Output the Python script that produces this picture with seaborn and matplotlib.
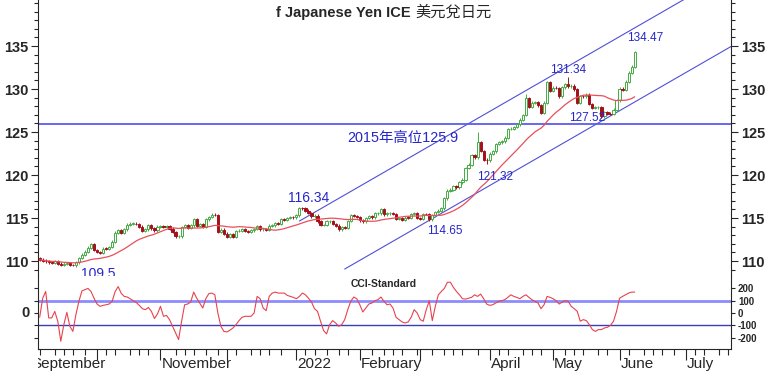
import numpy as np
import pandas as pd
import matplotlib
matplotlib.use("Agg")
import matplotlib.pyplot as plt
import matplotlib.transforms as mtransforms
from matplotlib.ticker import MultipleLocator
import seaborn as sns

# ---------------- data ----------------
start_date, end_date = "2021-09-06", "2022-06-08"
first_open = 110.30

close_sep = [110.15, 110.05, 109.95, 109.85, 109.80, 109.95, 109.70, 109.55, 109.70, 109.75,
             109.55, 109.50, 109.85, 110.35, 110.75, 111.10, 111.55, 112.00, 111.30]
close_oct = [111.05, 110.93, 111.45, 111.42, 111.62, 112.24, 113.31, 113.60, 113.26, 113.68,
             114.22, 114.35, 114.36, 114.30, 113.99, 113.47, 113.70, 114.14, 113.80, 113.58, 114.00]
close_nov = [114.03, 113.97, 114.07, 113.75, 113.40, 112.86, 112.88, 113.95, 114.15, 113.88,
             114.14, 114.84, 114.10, 114.25, 114.00, 114.84, 115.10, 115.38, 115.36, 113.38,
             113.64, 113.17]
close_dec = [112.80, 113.15, 112.78, 113.47, 113.53, 113.73, 113.48, 113.43, 113.57, 113.73,
             114.05, 113.70, 113.70, 113.62, 114.10, 114.15, 114.40, 114.35, 114.83, 114.82,
             115.02, 115.10, 115.08]
close_jan = [115.30, 116.14, 116.12, 115.85, 115.58, 115.20, 115.27, 114.63, 114.18, 114.20,
             114.60, 114.63, 114.30, 114.12, 113.68, 113.95, 113.88, 114.65, 115.35, 115.26, 115.10]
close_feb = [114.72, 114.60, 114.98, 115.25, 115.08, 115.55, 115.55, 116.02, 115.42, 115.55,
             115.60, 115.45, 114.90, 115.00, 114.77, 115.04, 115.03, 115.48, 115.55, 114.98]
close_mar = [114.90, 115.49, 115.48, 114.83, 115.30, 115.68, 115.87, 116.13, 117.30, 118.17,
             118.30, 118.70, 118.57, 119.14, 119.46, 120.80, 121.20, 122.33, 122.05, 123.85,
             122.80, 121.80, 121.70]
close_apr = [122.50, 122.75, 123.60, 123.80, 123.93, 124.35, 125.35, 125.38, 125.60, 125.88,
             126.45, 126.98, 128.90, 127.90, 128.40, 128.50, 128.10, 127.20, 128.40, 130.80, 129.80]
close_may = [130.15, 130.10, 129.15, 130.20, 130.55, 130.30, 130.40, 129.95, 128.35, 129.20,
             129.15, 129.36, 128.25, 127.80, 127.86, 127.87, 126.83, 127.30, 127.12, 127.11,
             127.60, 128.68]
close_jun = [130.05, 129.90, 130.85, 131.90, 132.60, 134.25]

high_marks = {"2022-01-04": 116.34, "2022-03-28": 125.05, "2022-04-19": 129.40,
              "2022-05-09": 131.34, "2022-06-08": 134.47}
low_marks = {"2021-09-21": 109.45, "2022-03-04": 114.65, "2022-03-31": 121.32,
             "2022-05-24": 126.60}

cci_sep = [-35, 120, 175, -40, -40, 13, -67, -230, -95, 5, -108, -150, -13, 95, 180, 190, 200, 175, 120]
cci_oct = [73, 54, 62, 67, 73, 95, 175, 215, 160, 135, 130, 115, 100, 85, 62, 35, 27, 45, 13, -45, -8]
cci_nov = [54, -27, -20, -54, -108, -162, -216, -67, 67, 73, 89, 170, 120, 81, 40, 116, 157, 162,
           148, 0, -108, -150]
cci_dec = [-154, -140, -122, -95, -62, -35, -27, -27, -27, 0, 135, 116, 40, 19, 135, 162, 170, 162,
           162, 162, 143, 135, 127]
cci_jan = [116, 135, 162, 148, 120, 89, 35, 13, -67, -143, -170, -95, -62, -81, -108, -95, -54, 27,
           95, 130, 116]
cci_feb = [67, 8, 40, 73, 81, 100, 108, 130, 95, 67, 73, 40, -35, -54, -73, -81, -73, -35, 27, 0]
cci_mar = [-54, -67, 27, 100, -62, 54, 148, 175, 200, 250, 250, 208, 175, 148, 116, 113, 120, 127,
           148, 135, 154, 116, 73]
cci_apr = [62, 67, 81, 95, 100, 108, 127, 148, 135, 127, 116, 135, 148, 127, 108, 95, 81, 35, 67,
           135, 127]
cci_may = [116, 100, 73, 89, 100, 95, 54, 35, 13, -67, -54, -62, -95, -135, -150, -135, -135, -122,
           -116, -100, -67, 13]
cci_jun = [120, 135, 148, 162, 170, 170]

ma_window = 20
level_2015 = 125.9
upper_dates, upper_prices = ["2022-01-04", "2022-07-06"], [114.65, 141.15]
lower_dates, lower_prices = ["2022-01-25", "2022-07-22"], [109.07, 134.96]

month_labels = {"2021-09": "September", "2021-11": "November", "2022-01": "2022",
                "2022-02": "February", "2022-04": "April", "2022-05": "May",
                "2022-06": "June", "2022-07": "July"}
price_ticks = [110, 115, 120, 125, 130, 135]
cci_ticks = [-200, -100, 0, 100, 200]

# ---------------- prep ----------------
closes = np.array(close_sep + close_oct + close_nov + close_dec + close_jan + close_feb
                  + close_mar + close_apr + close_may + close_jun)
cci = np.array(cci_sep + cci_oct + cci_nov + cci_dec + cci_jan + cci_feb
               + cci_mar + cci_apr + cci_may + cci_jun)
dates = pd.bdate_range(start_date, end_date)
axis_days = pd.bdate_range("2021-09-01", "2022-07-29")
x = axis_days.get_indexer(dates)

opens = np.concatenate([[first_open], closes[:-1]])
highs = np.maximum(opens, closes) + 0.15
lows = np.minimum(opens, closes) - 0.15
for d, v in high_marks.items():
    highs[dates.get_loc(pd.Timestamp(d))] = v
for d, v in low_marks.items():
    lows[dates.get_loc(pd.Timestamp(d))] = v
ma = pd.Series(closes).rolling(ma_window, min_periods=1).mean()

def pos(ds):
    return axis_days.get_indexer(pd.to_datetime(ds))

# ---------------- figure ----------------
sns.set_style("white")
plt.rcParams["font.family"] = ["Liberation Sans", "Noto Sans CJK TC", "DejaVu Sans"]

W, H = 768, 372
fig = plt.figure(figsize=(W / 100, H / 100), dpi=100)

def rect(l, t, r, b):
    return [l / W, 1 - b / H, (r - l) / W, (b - t) / H]

ax = fig.add_axes(rect(38, 0, 731, 276))
axc = fig.add_axes(rect(38, 276, 731, 349), sharex=ax)

BLUE_TXT = "#2626c8"
GREEN = "#45ad45"
RED = "#a3121c"

# candles
up = closes >= opens
body_lo = np.minimum(opens, closes)
body_h = np.maximum(np.abs(closes - opens), 0.04)
ax.vlines(x[up], lows[up], highs[up], color=GREEN, lw=0.7, zorder=2)
ax.vlines(x[~up], lows[~up], highs[~up], color=RED, lw=0.7, zorder=2)
ax.bar(x[up], body_h[up], bottom=body_lo[up], width=0.72, facecolor="white",
       edgecolor=GREEN, linewidth=0.7, zorder=3)
ax.bar(x[~up], body_h[~up], bottom=body_lo[~up], width=0.72, facecolor=RED,
       edgecolor=RED, linewidth=0.7, zorder=3)

sns.lineplot(x=x, y=ma.values, ax=ax, color="#e8505a", lw=0.9, zorder=4)
sns.lineplot(x=pos(upper_dates), y=upper_prices, ax=ax, color="#4f4fd8", lw=0.8, zorder=1)
sns.lineplot(x=pos(lower_dates), y=lower_prices, ax=ax, color="#4f4fd8", lw=0.8, zorder=1)
ax.axhline(level_2015, color="#5a5af2", lw=1.3, zorder=1)

# annotations
notes = [("134.47", 203.5, 135.9, 8.5), ("131.34", 178.1, 132.2, 8.5),
         ("127.52", 184.1, 126.6, 8.5), ("121.32", 153.7, 119.8, 8.5),
         ("116.34", 92.2, 117.36, 10), ("114.65", 137.1, 113.49, 8.5),
         ("109.5", 22.5, 108.49, 10)]
for txt, px, py, fs in notes:
    ax.text(px, py, txt, color=BLUE_TXT, fontsize=fs, ha="center", va="center",
            clip_on=True, zorder=5)
ax.text(104.8, 124.3, f"2015年高位{level_2015}", color=BLUE_TXT, fontsize=10.4,
        ha="left", va="center", zorder=5)

ax.set_ylim(108.26, 140.35)
ax.set_xlim(2.45, 231.9)
ax.set_yticks(price_ticks, [str(t) for t in price_ticks], fontweight="bold", fontsize=10.5)
ax.yaxis.set_minor_locator(MultipleLocator(1))
ax.tick_params(axis="y", which="both", left=True, right=True, labelleft=True,
               labelright=True, direction="out", width=0.8, pad=2)
ax.tick_params(axis="y", which="major", length=5)
ax.tick_params(axis="y", which="minor", length=3)
ax.tick_params(axis="x", which="both", bottom=False, labelbottom=False)
for s in ["top", "bottom"]:
    ax.spines[s].set_visible(False)
for s in ["left", "right"]:
    ax.spines[s].set_linewidth(0.8)
ax.set_xlabel("")
ax.set_ylabel("")

# CCI panel
sns.lineplot(x=x, y=cci, ax=axc, color="#e8434d", lw=0.8, zorder=3)
axc.axhline(100, color="#8c8cff", lw=2.0, zorder=1)
axc.axhline(-100, color="#3c3cb4", lw=1.0, zorder=1)
axc.text(0.499, 0.89, "CCI-Standard", transform=axc.transAxes, fontsize=7.5,
         fontweight="bold", ha="center", va="center")
axc.set_ylim(-293, 301)
axc.set_yticks(cci_ticks, [str(t) for t in cci_ticks], fontweight="bold", fontsize=7)
axc.tick_params(axis="y", which="major", left=True, right=True, labelleft=False,
                labelright=True, direction="out", length=3, width=0.8, pad=2)
axc.text(-0.0115, 0, "0", transform=mtransforms.blended_transform_factory(axc.transAxes, axc.transData),
         fontsize=10.5, fontweight="bold", ha="right", va="center")
axc.spines["top"].set_visible(False)
for s in ["left", "right", "bottom"]:
    axc.spines[s].set_linewidth(0.8)
axc.set_xlabel("")
axc.set_ylabel("")

# x axis: month ticks + 5-day minor ticks, labels left-aligned at month start
month_starts = pd.date_range("2021-09-01", "2022-07-01", freq="MS")
month_pos = axis_days.searchsorted(month_starts)
minor_days = [m + pd.Timedelta(days=k) for m in month_starts for k in (5, 10, 15, 20, 25)]
minor_pos = [p for p in axis_days.searchsorted(minor_days) if p < len(axis_days)]
axc.set_xticks(month_pos)
axc.set_xticks(minor_pos, minor=True)
axc.tick_params(axis="x", which="both", bottom=True, labelbottom=False, direction="out", width=0.8)
axc.tick_params(axis="x", which="major", length=8)
axc.tick_params(axis="x", which="minor", length=4.5)
axc.set_xlim(2.45, 231.9)

clip = mtransforms.TransformedBbox(mtransforms.Bbox([[38 / W, 0], [1, 1]]), fig.transFigure)
xt = mtransforms.blended_transform_factory(axc.transData, fig.transFigure)
for m, p in zip(month_starts, month_pos):
    key = m.strftime("%Y-%m")
    if key in month_labels:
        t = axc.text(p + 0.3, 1 - 368 / H, month_labels[key], transform=xt, fontsize=11,
                     ha="left", va="baseline")
        t.set_clip_on(True)
        t.set_clip_box(clip)

# title
fig.text(411 / W, 1 - 17 / H, "f Japanese Yen ICE", fontsize=10.5, fontweight="bold",
         ha="right", va="baseline")
fig.text(415 / W, 1 - 17 / H, "美元兌日元", fontsize=11, ha="left", va="baseline",
         family=["Noto Sans CJK TC", "DejaVu Sans"])

fig.savefig("out.png", dpi=100)
